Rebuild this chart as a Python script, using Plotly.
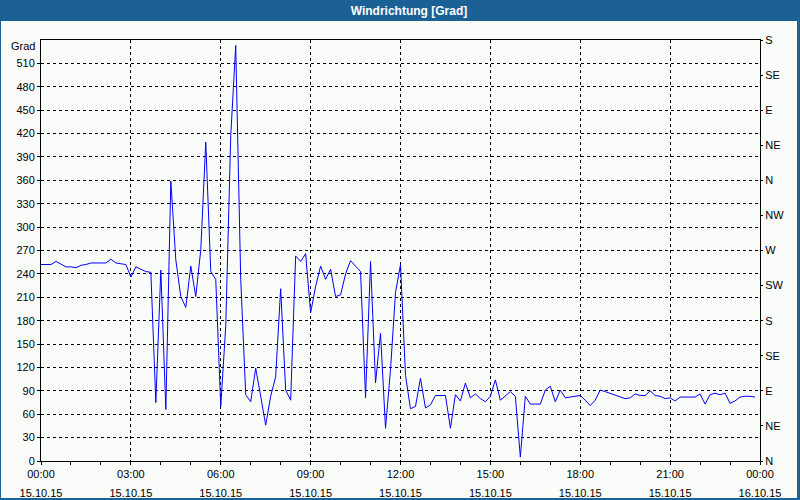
import plotly.graph_objects as go
import pandas as pd

# 10-minute samples, 15.10.15 00:00 .. 23:50
start = "2015-10-15 00:00"
wind_dir = [
    252, 252, 252, 256, 252, 249, 249, 248, 251, 252,
    254, 254, 254, 254, 259, 254, 253, 252, 236, 249,
    246, 243, 242, 75, 245, 66, 359, 258, 211, 197,
    250, 211, 271, 409, 243, 233, 70, 173, 417, 533,
    233, 85, 76, 119, 83, 46, 83, 108, 221, 91,
    78, 263, 256, 266, 190, 224, 250, 233, 246, 211,
    213, 240, 257, 250, 243, 81, 256, 100, 164, 42,
    117, 216, 252, 110, 67, 70, 106, 68, 72, 84,
    84, 84, 42, 85, 77, 100, 81, 86, 80, 76,
    83, 104, 78, 84, 89, 83, 5, 83, 73, 73,
    73, 91, 96, 76, 91, 81, 82, 83, 84, 78,
    71, 78, 91, 89, 87, 85, 83, 80, 81, 86,
    84, 84, 90, 84, 83, 80, 81, 77, 82, 82,
    82, 82, 86, 73, 85, 87, 85, 87, 74, 77,
    82, 83, 83, 82,
]
times = pd.date_range(start, periods=len(wind_dir), freq="10min")

left_ticks = list(range(0, 511, 30))
compass_vals = list(range(0, 541, 45))
compass_text = ["N", "NE", "E", "SE", "S", "SW", "W", "NW", "N", "NE", "E", "SE", "S"]

W, H = 800, 500
L, R, T, B = 41, 40, 40, 39
pw, ph = W - L - R, H - T - B

def px(x):
    return (x - L) / pw

def py(y):
    return (H - B - y) / ph

font = dict(family="Liberation Sans, Arial, sans-serif", size=11, color="black")
x_range = ["2015-10-15 00:00", "2015-10-16 00:00"]

fig = go.Figure()
fig.add_trace(go.Scatter(x=times, y=wind_dir, mode="lines",
                         line=dict(color="#0000ff", width=1), hoverinfo="skip",
                         showlegend=False))
fig.add_trace(go.Scatter(x=times, y=wind_dir, mode="lines", xaxis="x2", yaxis="y2",
                         line=dict(color="rgba(0,0,0,0)", width=0), hoverinfo="skip",
                         showlegend=False))

fig.update_layout(
    width=W, height=H,
    margin=dict(l=L, r=R, t=T, b=B, autoexpand=False),
    paper_bgcolor="#1c6195",
    plot_bgcolor="rgba(0,0,0,0)",
    font=font,
    title=dict(text="<b>Windrichtung [Grad]</b>", x=px(409), xref="paper", xanchor="center",
               y=1 - 11 / H, yref="container", yanchor="middle",
               font=dict(family="Liberation Sans, Arial, sans-serif", size=12, color="white")),
    xaxis=dict(
        type="date", range=x_range,
        tick0="2015-10-15 00:00", dtick=3 * 3600000,
        tickformat="%H:%M",
        ticks="outside", ticklen=3, tickcolor="black",
        showgrid=True, gridcolor="black", griddash="3px,3px", gridwidth=1,
        showline=True, linecolor="black", linewidth=1, mirror=True,
        zeroline=False, automargin=False,
        minor=dict(dtick=3600000, ticks="outside", ticklen=3, tickcolor="black", showgrid=False),
        tickfont=font,
    ),
    xaxis2=dict(
        type="date", range=x_range, overlaying="x", side="bottom", anchor="y",
        tick0="2015-10-15 00:00", dtick=3 * 3600000,
        tickformat="%d.%m.%y",
        ticks="", ticklabelstandoff=24,
        showgrid=False, showline=False, zeroline=False, automargin=False,
        tickfont=font,
    ),
    yaxis=dict(
        range=[0, 540],
        tickvals=left_ticks,
        ticks="outside", ticklen=3, tickcolor="black",
        showgrid=True, gridcolor="black", griddash="3px,3px", gridwidth=1,
        showline=True, linecolor="black", linewidth=1, mirror=True,
        zeroline=False, automargin=False,
        tickfont=font,
    ),
    yaxis2=dict(
        range=[0, 540], overlaying="y", side="right", anchor="x",
        tickvals=compass_vals, ticktext=compass_text,
        ticks="outside", ticklen=2, tickcolor="black",
        showgrid=False, showline=True, linecolor="black", linewidth=1,
        zeroline=False, automargin=False, tickfont=font,
    ),
    shapes=[
        dict(type="rect", xref="paper", yref="paper", layer="below",
             x0=px(1), x1=px(797), y0=py(498), y1=py(21),
             fillcolor="#fafcfa", line=dict(width=0)),
    ],
    annotations=[
        dict(text="Grad", xref="paper", yref="paper", x=px(37), y=py(46),
             xanchor="right", yanchor="middle", showarrow=False, font=font),
    ],
)

fig.write_html("out.html", config={"displayModeBar": False},
               post_script="document.body.style.margin='0';")
